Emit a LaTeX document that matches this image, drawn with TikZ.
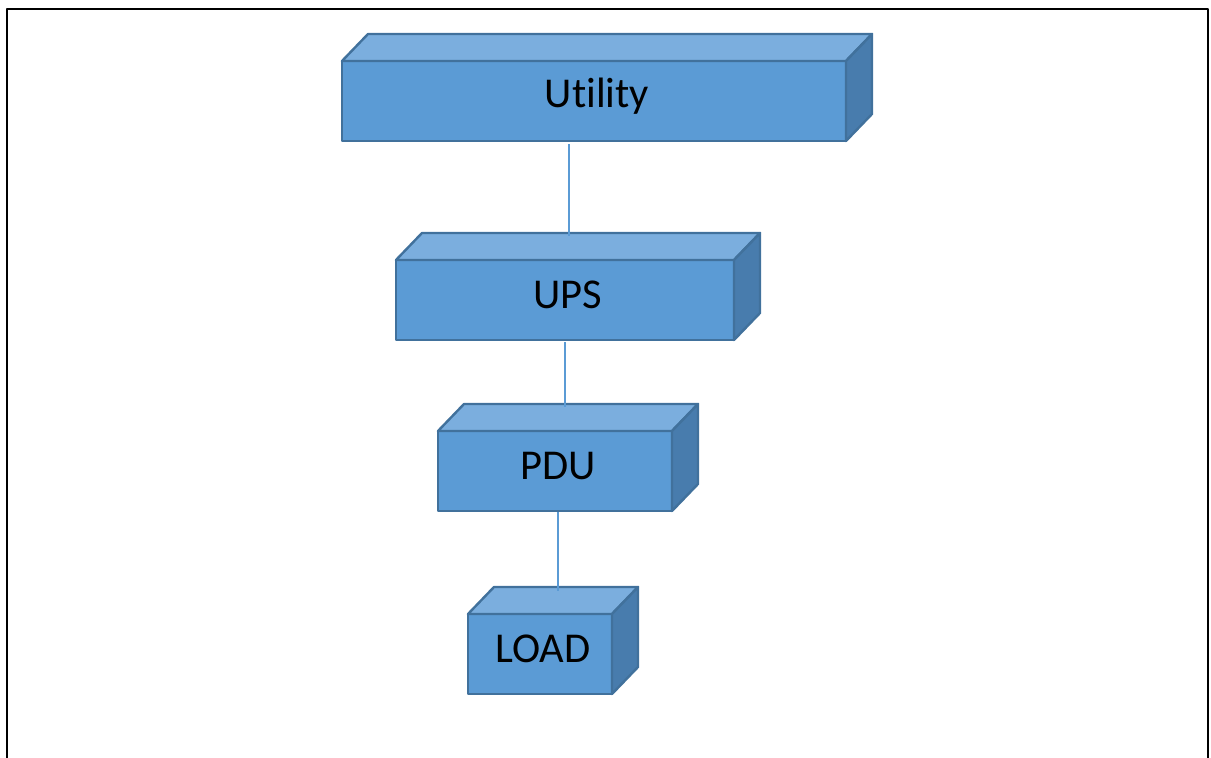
\documentclass[tikz,border=0pt]{standalone}
\usepackage{fontspec}
\setmainfont{Carlito}[Ligatures={NoCommon}]
\definecolor{boxfront}{HTML}{5B9BD5}
\definecolor{boxtop}{HTML}{7BAEDE}
\definecolor{boxside}{HTML}{487CAD}
\definecolor{boxline}{HTML}{41719C}
\tikzset{
  frontface/.style={draw=boxline,fill=boxfront,line width=2.4pt,inner sep=0pt,outer sep=0pt},
  topface/.style={draw=boxline,fill=boxtop,line width=2.4pt,line join=round},
  sideface/.style={draw=boxline,fill=boxside,line width=2.4pt,line join=round},
  boxlabel/.style={font=\fontsize{42.5}{50}\selectfont,text=black,inner sep=0pt},
  wire/.style={draw=boxfront,line width=1.3pt}
}
% name, x, y, width, height, text
\newcommand{\cubebox}[6]{%
  \node[frontface,minimum width=#4pt,minimum height=#5pt] (#1) at (#2,#3) {};
  \filldraw[topface] (#1.north west) -- ([shift={(26,-27)}]#1.north west)
    -- ([shift={(26,-27)}]#1.north east) -- (#1.north east) -- cycle;
  \filldraw[sideface] (#1.north east) -- ([shift={(26,-27)}]#1.north east)
    -- ([shift={(26,-27)}]#1.south east) -- (#1.south east) -- cycle;
  \node[boxlabel] (#1-t) at ([shift={(3,-5)}]#1.center) {#6};
}
\begin{document}
\begin{tikzpicture}[x=1pt,y=-1pt,line join = round]
  \useasboundingbox (0,0) rectangle (1211,758);
  \draw[line width=2.6pt] (7,770) -- (7,9) -- (1208,9) -- (1208,770);
  \cubebox{util}{594}{101}{504}{80}{Utility}
  \cubebox{ups}{565}{300}{338}{80}{UPS}
  \cubebox{pdu}{555}{471}{234}{80}{PDU}
  \cubebox{load}{540}{654}{144}{80}{LOAD}
  \draw[wire] ([shift={(-25,3)}]util.south) -- ([shift={(4,-24)}]ups.north);
  \draw[wire] ([shift={(0,2)}]ups.south) -- ([shift={(10,-24)}]pdu.north);
  \draw[wire] ([shift={(3,1)}]pdu.south) -- ([shift={(18,-23)}]load.north);
\end{tikzpicture}
\end{document}
